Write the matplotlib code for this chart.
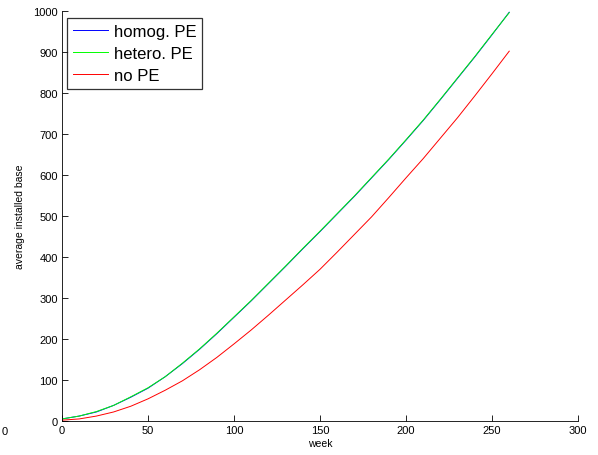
import matplotlib

matplotlib.use("Agg")
import matplotlib.pyplot as plt

plt.rcParams["font.family"] = ["Liberation Sans", "DejaVu Sans"]

weeks = [0, 10, 20, 30, 40, 50, 60, 70, 80, 90, 100, 110, 120, 130,
         140, 150, 160, 170, 180, 190, 200, 210, 220, 230, 240, 250, 260]
homog_pe = [5, 12, 22, 38, 58, 80, 108, 140, 175, 213, 253, 293, 335, 377,
            420, 462, 505, 548, 593, 638, 685, 733, 784, 836, 888, 942, 997]
hetero_pe = [5, 12, 23, 38, 59, 81, 108, 141, 176, 214, 254, 294, 336, 378,
             421, 463, 506, 549, 594, 639, 686, 734, 785, 837, 889, 943, 996]
no_pe = [2, 5, 12, 22, 36, 54, 75, 98, 125, 155, 188, 222, 258, 295,
         332, 370, 412, 455, 498, 545, 593, 640, 690, 740, 793, 847, 902]

fig = plt.figure(figsize=(5.98, 4.56), dpi=100)
ax = fig.add_axes([0.1037, 0.0746, 0.8629, 0.8991])

ax.plot(weeks, homog_pe, color=(0, 0, 1), lw=0.7, label="homog. PE")
ax.plot(weeks, hetero_pe, color=(0, 1, 0), lw=0.7, label="hetero. PE")
ax.plot(weeks, no_pe, color=(1, 0, 0), lw=0.7, label="no PE")

ax.set_xlim(0, 300)
ax.set_ylim(0, 1000)
ax.set_xticks(range(0, 301, 50))
ax.set_yticks(range(0, 1001, 100))
ax.tick_params(direction="in", length=4, width=0.6, labelsize=8, pad=3)
for side in ("top", "right"):
    ax.spines[side].set_visible(False)
for side in ("left", "bottom"):
    ax.spines[side].set_linewidth(0.6)

ax.set_xlabel("week", fontsize=7.5, labelpad=2)
ax.set_ylabel("average installed base", fontsize=7.5, labelpad=6)

leg = ax.legend(loc="upper left", bbox_to_anchor=(0.01, 0.983), fontsize=12,
                frameon=True, fancybox=False, edgecolor="black",
                borderaxespad=0, handlelength=2.1, labelspacing=0.42,
                borderpad=0.35, handletextpad=0.35)
leg.get_frame().set_linewidth(0.9)

fig.text(0.003, 0.045, "0", fontsize=8)

fig.savefig("out.png", dpi=100)
